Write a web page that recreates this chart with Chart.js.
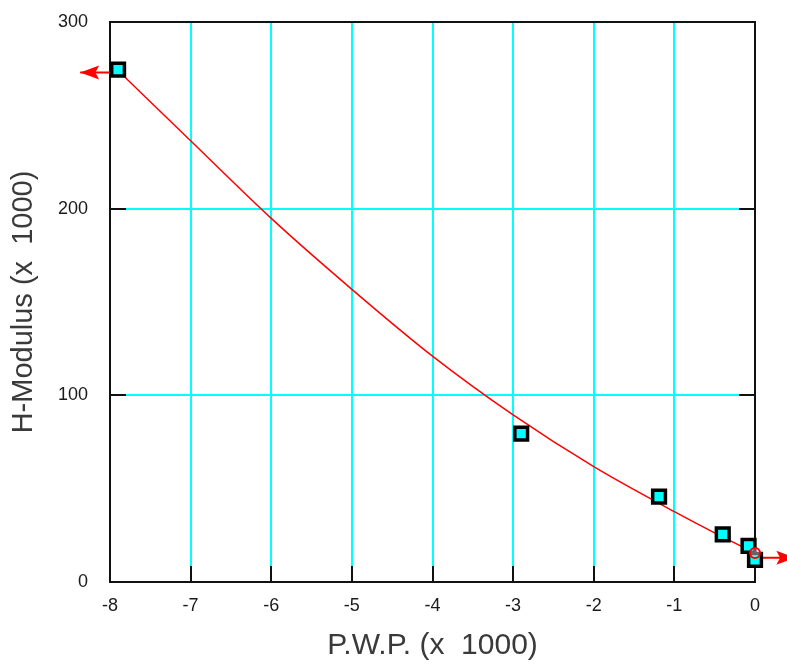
<!DOCTYPE html>
<html><head><meta charset="utf-8">
<script src="https://cdn.jsdelivr.net/npm/chart.js@4.4.0/dist/chart.umd.min.js"></script>
<style>html,body{margin:0;padding:0;background:#fff;}</style>
</head><body>
<canvas id="c" width="787" height="665"></canvas>
<script>
// Measured points
const pwp  = [-7.9, -2.9, -1.19, -0.4, -0.08, 0.0];
const hmod = [274.5, 79.5, 45.7, 25.5, 19.3, 11.8];
// Fitted curve
const fitX = [-7.9, -7, -6, -5, -4, -3, -2, -1, -0.5, 0];
const fitY = [274, 236.4, 194.8, 156.8, 121, 89.5, 61.8, 37.7, 26.3, 15.5];
// Curve end marker
const endX = [0];
const endY = [15.5];
// Extrapolation arrows (start, tip)
const arrowLX = [-7.9, -8.37];
const arrowLY = [273, 273];
const arrowRX = [0, 0.5];
const arrowRY = [13, 13];
// Tick labels
const xTickLabels = ['-8','-7','-6','-5','-4','-3','-2','-1','0'];
const yTickLabels = ['0','100','200','300'];
const xTitle = 'P.W.P. (x  1000)';
const yTitle = 'H-Modulus (x  1000)';

const pts = (xs, ys) => xs.map((v, i) => ({x: v, y: ys[i]}));

const framePlugin = {
  id: 'frame',
  beforeDatasetsDraw(chart) {
    const {ctx, chartArea: a, scales: {x, y}} = chart;
    ctx.save();
    ctx.strokeStyle = '#111';
    ctx.lineWidth = 2;
    ctx.beginPath();
    x.ticks.forEach(t => {
      const px = Math.round(x.getPixelForValue(t.value));
      ctx.moveTo(px, a.bottom); ctx.lineTo(px, a.bottom - 16);
    });
    y.ticks.forEach(t => {
      const py = Math.round(y.getPixelForValue(t.value));
      ctx.moveTo(a.left, py); ctx.lineTo(a.left + 16, py);
      ctx.moveTo(a.right, py); ctx.lineTo(a.right - 16, py);
    });
    ctx.stroke();
    ctx.strokeRect(a.left, a.top, a.right - a.left, a.bottom - a.top);
    ctx.restore();
  }
};

// Arrowheads at the tip point of arrow datasets
const arrowPlugin = {
  id: 'arrows',
  afterDatasetsDraw(chart) {
    const {ctx} = chart;
    [3, 4].forEach(i => {
      const d = chart.getDatasetMeta(i).data;
      const p0 = d[0], p1 = d[1];
      const ang = Math.atan2(p1.y - p0.y, p1.x - p0.x);
      const L = 19, W = 7;
      ctx.save();
      ctx.translate(p1.x, p1.y);
      ctx.rotate(ang);
      ctx.fillStyle = '#FF0000';
      ctx.beginPath();
      ctx.moveTo(0, 0);
      ctx.lineTo(-L, -W);
      ctx.lineTo(-L * 0.8, 0);
      ctx.lineTo(-L, W);
      ctx.closePath();
      ctx.fill();
      ctx.restore();
    });
  }
};

const cyan = '#00FFFF';
new Chart(document.getElementById('c'), {
  type: 'scatter',
  data: {
    datasets: [
      {
        data: pts(endX, endY),
        pointStyle: 'circle', pointRadius: 5,
        borderColor: '#FF0000', borderWidth: 2,
        backgroundColor: 'rgba(255,255,255,0.4)',
        clip: false
      },
      {
        data: pts(pwp, hmod),
        pointStyle: 'rect', pointRadius: 9,
        borderColor: '#000', borderWidth: 3.5,
        backgroundColor: cyan,
        clip: false
      },
      {
        data: pts(fitX, fitY),
        showLine: true, pointRadius: 0,
        borderColor: '#FF0000', borderWidth: 1.5,
        cubicInterpolationMode: 'monotone',
        clip: false
      },
      {
        data: pts(arrowLX, arrowLY),
        showLine: true, borderColor: '#FF0000', borderWidth: 2,
        pointRadius: 0, clip: false
      },
      {
        data: pts(arrowRX, arrowRY),
        showLine: true, borderColor: '#FF0000', borderWidth: 2,
        pointRadius: 0, clip: false
      }
    ]
  },
  options: {
    responsive: false,
    animation: false,
    devicePixelRatio: 1,
    layout: {padding: {top: 22, right: 32, left: 0, bottom: 0}},
    plugins: {legend: {display: false}, tooltip: {enabled: false}},
    scales: {
      x: {
        type: 'linear', min: -8, max: 0,
        afterFit(s) { s.height = 83; },
        border: {display: false},
        grid: {
          drawTicks: false, lineWidth: 2,
          color: c => (c.index === 0 || c.index === xTickLabels.length - 1) ? 'rgba(0,0,0,0)' : cyan
        },
        ticks: {
          stepSize: 1, padding: 13, color: '#1a1a1a',
          font: {family: 'Liberation Sans, Arial, sans-serif', size: 18},
          callback: (v, i) => xTickLabels[i]
        },
        title: {
          display: true, text: xTitle, color: '#3a3a3a', padding: {top: 0, bottom: 1},
          font: {family: 'Liberation Sans, Arial, sans-serif', size: 30}
        }
      },
      y: {
        type: 'linear', min: 0, max: 300,
        afterFit(s) { s.width = 110; s.paddingTop = 0; s.paddingBottom = 0; },
        border: {display: false},
        grid: {
          drawTicks: false, lineWidth: 2,
          color: c => (c.index === 0 || c.index === yTickLabels.length - 1) ? 'rgba(0,0,0,0)' : cyan
        },
        ticks: {
          stepSize: 100, padding: 22, color: '#1a1a1a',
          font: {family: 'Liberation Sans, Arial, sans-serif', size: 18},
          callback: (v, i) => yTickLabels[i]
        },
        title: {
          display: true, text: yTitle, color: '#3a3a3a', padding: {top: 7, bottom: 0},
          font: {family: 'Liberation Sans, Arial, sans-serif', size: 29}
        }
      }
    }
  },
  plugins: [framePlugin, arrowPlugin]
});
</script>
</body></html>
